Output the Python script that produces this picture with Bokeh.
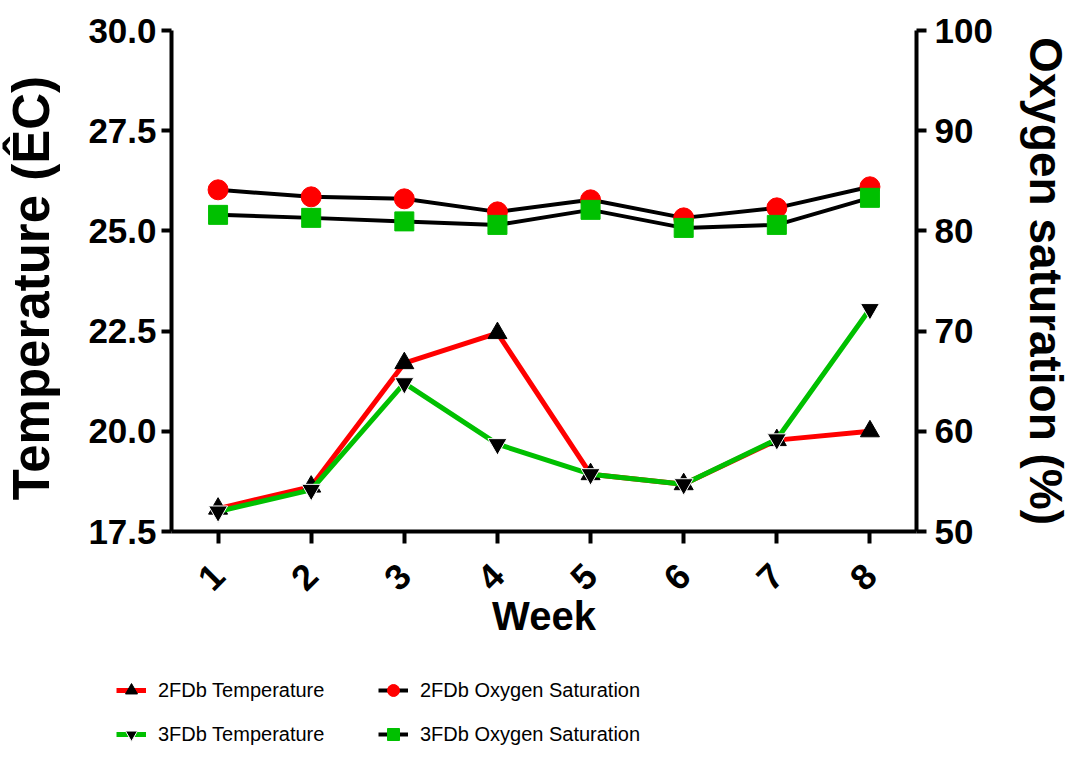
import math
from bokeh.plotting import figure
from bokeh.layouts import column
from bokeh.models import (Range1d, LinearAxis, FixedTicker, PrintfTickFormatter,
                          Legend, LegendItem)
from bokeh.embed import file_html
from bokeh.resources import INLINE

weeks = [1, 2, 3, 4, 5, 6, 7, 8]
week_labels = ["1", "2", "3", "4", "5", "6", "7", "8"]
temp_2fdb = [18.07, 18.62, 21.7, 22.45, 18.93, 18.68, 19.78, 20.0]
temp_3fdb = [18.0, 18.54, 21.2, 19.68, 18.93, 18.68, 19.8, 23.05]
o2_2fdb = [84.1, 83.4, 83.2, 81.9, 83.1, 81.3, 82.3, 84.4]
o2_3fdb = [81.6, 81.3, 80.95, 80.6, 82.1, 80.3, 80.6, 83.3]
temp_ticks = [17.5, 20.0, 22.5, 25.0, 27.5, 30.0]
o2_ticks = [50, 60, 70, 80, 90, 100]
series_labels = ["2FDb Temperature", "2FDb Oxygen Saturation",
                 "3FDb Temperature", "3FDb Oxygen Saturation"]

RED = "#FF0000"
GREEN = "#00C000"
BOLD_FONT = "Liberation Sans"

p = figure(width=1074, height=665, output_backend="svg", toolbar_location=None,
           x_range=Range1d(0.5, 8.5), y_range=Range1d(17.5, 30.0),
           min_border_left=162, min_border_right=156, min_border_top=30,
           min_border_bottom=134, outline_line_color=None,
           background_fill_color="white", border_fill_color="white")
p.extra_y_ranges = {"o2": Range1d(50, 100)}
p.xgrid.visible = False
p.ygrid.visible = False


def style_axis(ax, tick_size="35px"):
    ax.axis_line_width = 4
    ax.axis_line_color = "black"
    ax.major_tick_line_width = 4
    ax.major_tick_line_color = "black"
    ax.major_tick_in = 0
    ax.major_tick_out = 10
    ax.minor_tick_line_color = None
    ax.major_label_text_font = BOLD_FONT
    ax.major_label_text_font_style = "bold"
    ax.major_label_text_font_size = tick_size
    ax.major_label_text_color = "black"
    ax.axis_label_text_font = BOLD_FONT
    ax.axis_label_text_font_style = "bold"
    ax.axis_label_text_color = "black"


xa = p.xaxis[0]
style_axis(xa, "36px")
xa.ticker = FixedTicker(ticks=weeks)
xa.major_label_overrides = {w: l for w, l in zip(weeks, week_labels)}
xa.major_label_orientation = math.pi / 4
xa.major_tick_out = 12
xa.major_label_standoff = 26
xa.axis_label = "Week"
xa.axis_label_text_font_size = "40px"
xa.axis_label_standoff = -11

ya = p.yaxis[0]
style_axis(ya)
ya.ticker = FixedTicker(ticks=temp_ticks)
ya.formatter = PrintfTickFormatter(format="%.1f")
ya.major_label_standoff = 5
ya.axis_label = "Temperature  (ÊC)"
ya.axis_label_text_font_size = "51px"
ya.axis_label_standoff = 25

ra = LinearAxis(y_range_name="o2")
style_axis(ra)
ra.ticker = FixedTicker(ticks=o2_ticks)
ra.formatter = PrintfTickFormatter(format="%d")
ra.major_label_standoff = 8
ra.axis_label = "Oxygen saturation (%)"
ra.axis_label_text_font_size = "46px"
ra.axis_label_standoff = 24
p.add_layout(ra, "right")


def draw(fig):
    l1 = fig.line(weeks, temp_2fdb, line_color=RED, line_width=5)
    m1 = fig.scatter(weeks, temp_2fdb, marker="triangle", size=19,
                     fill_color="black", line_color="black")
    l2 = fig.line(weeks, temp_3fdb, line_color=GREEN, line_width=5)
    m2 = fig.scatter(weeks, temp_3fdb, marker="inverted_triangle", size=19,
                     fill_color="black", line_color="white", line_width=1)
    l3 = fig.line(weeks, o2_2fdb, y_range_name="o2", line_color="black", line_width=4)
    m3 = fig.scatter(weeks, o2_2fdb, y_range_name="o2", marker="circle", size=20,
                     fill_color=RED, line_color=RED)
    l4 = fig.line(weeks, o2_3fdb, y_range_name="o2", line_color="black", line_width=4)
    m4 = fig.scatter(weeks, o2_3fdb, y_range_name="o2", marker="square", size=19,
                     fill_color=GREEN, line_color=GREEN)
    return [[l1, m1], [l3, m3], [l2, m2], [l4, m4]]


draw(p)

# Legend strip below the chart (same series, drawn outside its visible range)
lp = figure(width=1074, height=84, output_backend="svg", toolbar_location=None,
            x_range=Range1d(100, 101), y_range=Range1d(100, 101),
            x_axis_location=None, y_axis_location=None, min_border=0,
            outline_line_color=None, background_fill_color="white",
            border_fill_color="white")
lp.extra_y_ranges = {"o2": Range1d(1000, 1001)}
lp.xgrid.visible = False
lp.ygrid.visible = False
groups = draw(lp)

aligned = True
for fig in (p, lp):
    if "frame_align" in fig.properties():
        fig.frame_align = False
        aligned = False

legend_x = -46 if aligned else 116
legend = Legend(items=[LegendItem(label=lab, renderers=g)
                       for lab, g in zip(series_labels, groups)],
                location=(legend_x, 0), orientation="horizontal", ncols=2,
                glyph_width=30, glyph_height=30, label_standoff=12,
                label_width=206, spacing=14, padding=0, margin=0,
                border_line_color=None, background_fill_alpha=0,
                label_text_font="Liberation Sans",
                label_text_font_size="20px", label_text_color="black")
lp.add_layout(legend, "center")

layout = column(p, lp, spacing=0)
open("out.html", "w").write(file_html(layout, INLINE))
